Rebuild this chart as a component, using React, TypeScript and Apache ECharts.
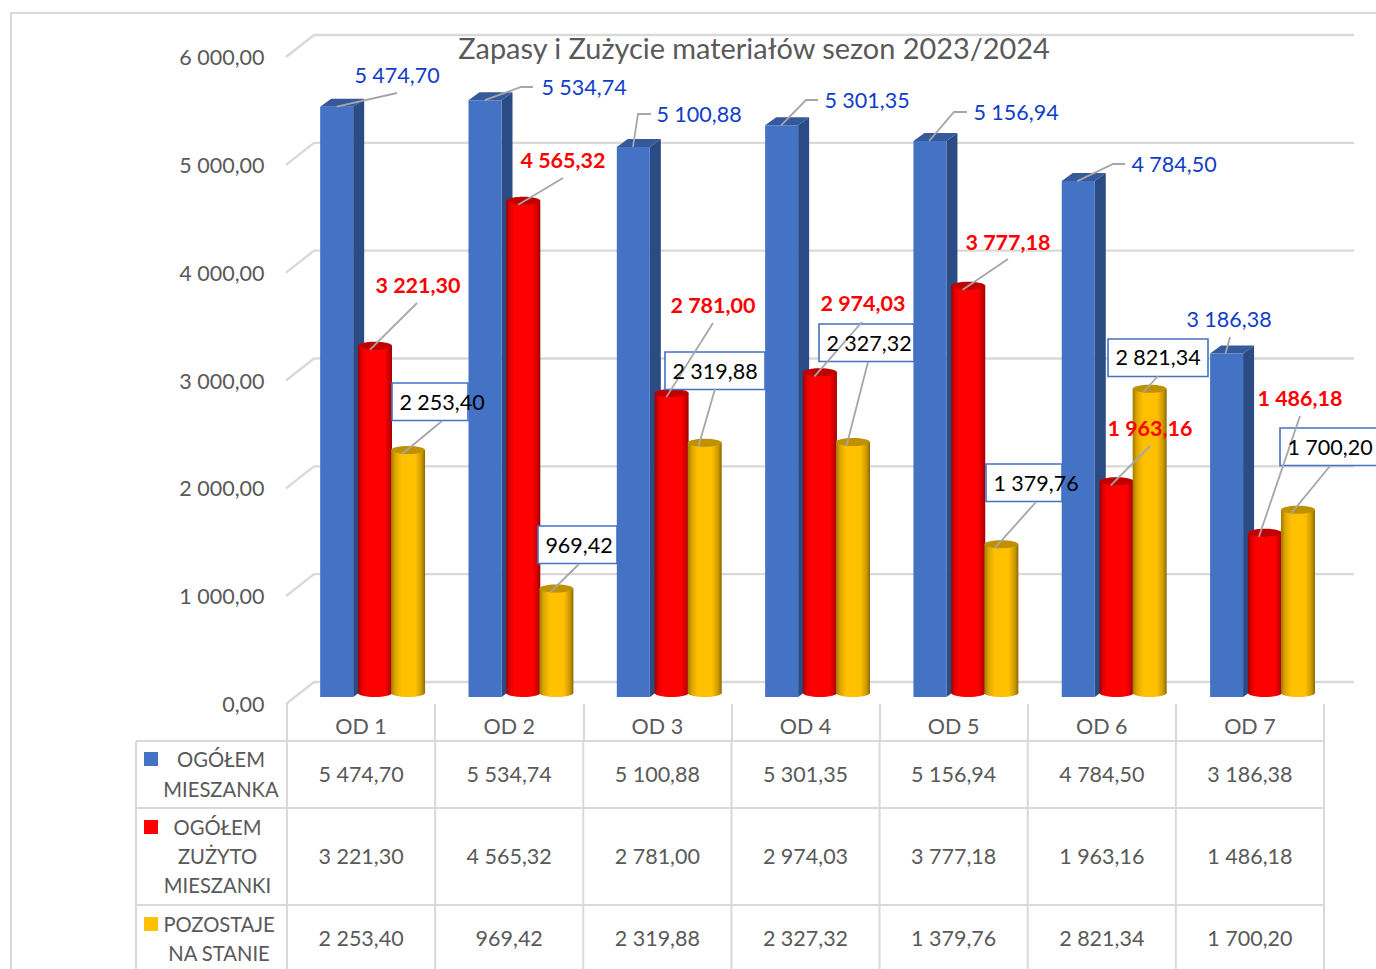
import React, { useEffect, useRef } from "react";
import * as echarts from "echarts";

const categories = ["OD 1", "OD 2", "OD 3", "OD 4", "OD 5", "OD 6", "OD 7"];
const mieszanka = [5474.7, 5534.74, 5100.88, 5301.35, 5156.94, 4784.5, 3186.38];
const zuzyto = [3221.3, 4565.32, 2781.0, 2974.03, 3777.18, 1963.16, 1486.18];
const pozostaje = [2253.4, 969.42, 2319.88, 2327.32, 1379.76, 2821.34, 1700.2];
const gridTicks = [0, 1000, 2000, 3000, 4000, 5000, 6000];
const titleText = "Zapasy i Zużycie materiałów sezon 2023/2024";
const legendRows = [
  ["OGÓŁEM", "MIESZANKA"],
  ["OGÓŁEM", "ZUŻYTO", "MIESZANKI"],
  ["POZOSTAJE", "NA STANIE"],
];

// Layout of the annotations (label centre, then leader points from the label towards the bar)
const blueLabels: [number, number, number[][]][] = [
  [397, 75, [[397, 93]]],
  [584, 87, [[533, 87], [521, 87]]],
  [699, 114, [[651, 114], [638, 114]]],
  [867, 100, [[818, 100], [806, 100]]],
  [1016, 112, [[967, 112], [954, 112]]],
  [1174, 164, [[1125, 164], [1113, 164]]],
  [1229, 319, [[1230, 337]]],
];
const redLabels: [number, number, number[][]][] = [
  [418, 285, [[417, 303]]],
  [563, 160, [[563, 178]]],
  [713, 305, [[713, 323]]],
  [863, 303, [[862, 322]]],
  [1008, 242, [[1008, 259]]],
  [1150, 428, [[1150, 446]]],
  [1300, 398, [[1300, 416]]],
];
const yellowLabels: [number, number, number[][]][] = [
  [442, 402, [[442, 421]]],
  [579, 545, [[579, 564]]],
  [715, 371, [[715, 389]]],
  [869, 343, [[868, 362]]],
  [1036, 483, [[1036, 502]]],
  [1158, 357, [[1158, 376]]],
  [1330, 447, [[1330, 466]]],
];
// Frames of the boxed labels: left, top, right (their right edge meets the next blue bar)
const labelBoxes = [
  [392, 383, 468],
  [538, 526, 617],
  [665, 352, 765],
  [819, 324, 914],
  [986, 464, 1062],
  [1108, 339, 1208],
  [1280, 428, 1380],
];

const FONT = "Lato";
const GRAY = "#595959";
const LINE = "#d9d9d9";
const TEXT_SIZE = 21.5;
const LEGEND_SIZE = 20.2;
const BAR_SHIFT = -7;
const WALL_SHIFT = -22;
const GRID_LEFT = 287;
const GRID_TOP = 57;
const GRID_H = 647;
const COL_W = 148.14;
const RIGHT_WALL = 1354;
const ROW_LINES = [741, 808, 905];
const ROW_CENTERS = [774, 856, 938];
const LEGEND_CENTERS = [221, 217.5, 219];
const LEGEND_Y = [[759, 789], [827, 856, 885], [924, 953]];
const SWATCH_Y = [752, 820, 917];
const COLORS = ["#4472c4", "#ff0000", "#ffc000"];
const COLUMN_DRIFT = 0.18;

const fmt = (v: number) => {
  const [i, d] = v.toFixed(2).split(".");
  return i.replace(/\B(?=(\d{3})+$)/g, " ") + "," + d;
};

const grad = (stops: [number, string][]) =>
  new echarts.graphic.LinearGradient(0, 0, 1, 0, stops.map(([offset, color]) => ({ offset, color })));

const redGrad = () =>
  grad([[0, "#9c0000"], [0.1, "#dd0000"], [0.24, "#ff0000"], [0.78, "#ff0000"], [0.93, "#c80000"], [1, "#960000"]]);
const yellowGrad = () =>
  grad([[0, "#a07a00"], [0.12, "#dca600"], [0.3, "#ffc000"], [0.72, "#ffc000"], [0.9, "#c99800"], [1, "#8a6800"]]);

const boxRender = (dx: number) => (_: any, api: any) => {
  const p = api.coord([api.value(0), api.value(1)]);
  const x = p[0] + dx + COLUMN_DRIFT * api.value(0) - 16.5;
  const w = 33;
  const top = p[1] + BAR_SHIFT;
  const bot = api.coord([api.value(0), 0])[1] + BAR_SHIFT;
  const d = 11;
  const h = 8;
  return {
    type: "group",
    children: [
      { type: "polygon", shape: { points: [[x + w, top], [x + w + d, top - h], [x + w + d, bot - h], [x + w, bot]] }, style: { fill: "#2b4b84" } },
      { type: "polygon", shape: { points: [[x, top], [x + d, top - h], [x + w + d, top - h], [x + w, top]] }, style: { fill: "#35599b" } },
      { type: "rect", shape: { x, y: top, width: w, height: bot - top }, style: { fill: COLORS[0] } },
    ],
  };
};

const cylinderRender = (dx: number, makeGrad: () => any, cap: string) => (_: any, api: any) => {
  const p = api.coord([api.value(0), api.value(1)]);
  const cx = p[0] + dx + COLUMN_DRIFT * api.value(0);
  const rx = 17;
  const ry = 4;
  const top = p[1] + BAR_SHIFT - ry;
  const bot = api.coord([api.value(0), 0])[1] + BAR_SHIFT - ry;
  return {
    type: "group",
    children: [
      { type: "ellipse", shape: { cx, cy: bot, rx, ry }, style: { fill: makeGrad() } },
      { type: "rect", shape: { x: cx - rx, y: top, width: rx * 2, height: bot - top }, style: { fill: makeGrad() } },
      { type: "ellipse", shape: { cx, cy: top, rx, ry }, style: { fill: cap } },
    ],
  };
};

const labelRender =
  (layout: [number, number, number[][]][], dx: number, color: string, weight: string) => (_: any, api: any) => {
    const i = api.value(0);
    const v = api.value(1);
    const p = api.coord([i, v]);
    const [lx, ly, pts] = layout[i];
    const anchor = [p[0] + dx, p[1] + BAR_SHIFT];
    return {
      type: "group",
      children: [
        { type: "polyline", shape: { points: [...pts, anchor] }, style: { stroke: "#a6a6a6", lineWidth: 1.8, fill: "none" } },
        {
          type: "text",
          style: { x: lx, y: ly, text: fmt(v), fill: color, fontFamily: FONT, fontSize: TEXT_SIZE, fontWeight: weight, align: "center", verticalAlign: "middle" },
        },
      ],
    };
  };

const boxesRender = (_: any, api: any) => {
  const [left, top, right] = labelBoxes[api.value(0)];
  return {
    type: "rect",
    shape: { x: left, y: top, width: right - left, height: 37.5 },
    style: { fill: "#ffffff", stroke: "#4472c4", lineWidth: 1.6 },
  };
};

const wallRender = (_: any, api: any) => {
  const y = api.coord([0, api.value(1)])[1];
  return {
    type: "polyline",
    shape: { points: [[GRID_LEFT - 1, y], [GRID_LEFT + 27, y + WALL_SHIFT], [RIGHT_WALL, y + WALL_SHIFT]] },
    style: { stroke: LINE, lineWidth: 2.4, fill: "none" },
  };
};

function tableGraphics() {
  const els: any[] = [];
  const line = (x1: number, y1: number, x2: number, y2: number, w = 2) =>
    els.push({ type: "line", shape: { x1, y1, x2, y2 }, style: { stroke: LINE, lineWidth: w }, silent: true });
  const text = (x: number, y: number, t: string, size: number) =>
    els.push({
      type: "text",
      x,
      y,
      style: { text: t, fill: GRAY, fontFamily: FONT, fontSize: size, align: "center", verticalAlign: "middle" },
      silent: true,
    });
  // outer frame
  line(11, 13, 11, 969);
  line(10, 13, 1376, 13);
  // rows
  ROW_LINES.forEach((y) => line(136, y, GRID_LEFT + COL_W * 7 + 1, y));
  line(136, ROW_LINES[0], 136, 969);
  for (let c = 0; c <= 7; c++) {
    const x = GRID_LEFT + COL_W * c;
    line(x, ROW_LINES[0], x, 969);
  }
  [mieszanka, zuzyto, pozostaje].forEach((row, r) =>
    row.forEach((v, c) => text(GRID_LEFT + COL_W * (c + 0.5), ROW_CENTERS[r], fmt(v), TEXT_SIZE))
  );
  legendRows.forEach((lines, r) => {
    els.push({ type: "rect", shape: { x: 144, y: SWATCH_Y[r], width: 14, height: 14 }, style: { fill: COLORS[r] }, silent: true });
    lines.forEach((t, k) => text(LEGEND_CENTERS[r], LEGEND_Y[r][k], t, LEGEND_SIZE));
  });
  return els;
}

export default function App() {
  const ref = useRef<HTMLDivElement>(null);
  useEffect(() => {
    document.body.style.margin = "0";
    document.body.style.overflow = "hidden";
    const chart = echarts.init(ref.current!, undefined, { renderer: "svg" });
    const pts = (vals: number[]) => vals.map((v, i) => [i, v]);
    const custom = (name: string, data: any[], renderItem: any, z: number) => ({
      type: "custom",
      name,
      data,
      renderItem,
      z,
      silent: true,
      clip: false,
      encode: { x: 0, y: 1 },
    });
    chart.setOption({
      animation: false,
      backgroundColor: "#ffffff",
      title: {
        text: titleText,
        left: 749,
        top: 28,
        textAlign: "center",
        textStyle: { color: GRAY, fontFamily: FONT, fontSize: 28.9, fontWeight: "normal" },
      },
      grid: { left: GRID_LEFT, top: GRID_TOP, width: COL_W * 7, height: GRID_H },
      xAxis: {
        type: "category",
        data: categories,
        axisLine: { show: false },
        axisTick: { show: true, alignWithLabel: false, length: 37, lineStyle: { color: LINE, width: 2 } },
        axisLabel: { color: GRAY, fontFamily: FONT, fontSize: TEXT_SIZE, margin: 11 },
        splitLine: { show: false },
      },
      yAxis: {
        type: "value",
        min: 0,
        max: 6000,
        interval: 1000,
        axisLine: { show: false },
        axisTick: { show: false },
        splitLine: { show: false },
        axisLabel: { color: GRAY, fontFamily: FONT, fontSize: TEXT_SIZE, margin: 22.5, formatter: (v: number) => fmt(v) },
      },
      graphic: { elements: tableGraphics() },
      series: [
        custom("siatka", gridTicks.map((v) => [0, v]), wallRender, 1),
        custom("OGÓŁEM MIESZANKA", pts(mieszanka), boxRender(-24.4), 3),
        custom("OGÓŁEM ZUŻYTO MIESZANKI", pts(zuzyto), cylinderRender(13.9, redGrad, "#c00000"), 4),
        custom("POZOSTAJE NA STANIE", pts(pozostaje), cylinderRender(47, yellowGrad, "#bf9000"), 5),
        custom("ramki", pts(pozostaje), boxesRender, 6),
        custom("etykiety 1", pts(mieszanka), labelRender(blueLabels, -24.4, "#0f3dc9", "normal"), 7),
        custom("etykiety 2", pts(zuzyto), labelRender(redLabels, 9, "#ff0000", "bold"), 7),
        custom("etykiety 3", pts(pozostaje), labelRender(yellowLabels, 41, "#000000", "normal"), 7),
      ],
    });
    return () => chart.dispose();
  }, []);
  return <div ref={ref} style={{ position: "absolute", left: 0, top: 0, width: 1376, height: 969 }} />;
}
